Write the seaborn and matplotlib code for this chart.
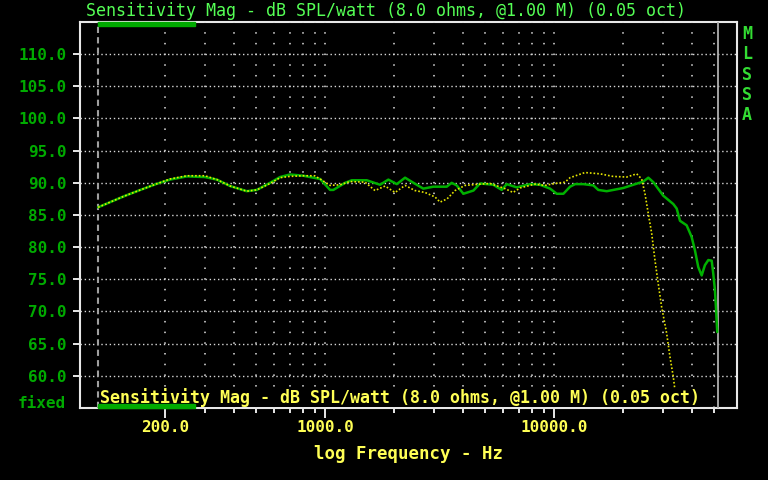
import matplotlib
matplotlib.use('Agg')
import matplotlib.pyplot as plt
from matplotlib.patches import Rectangle
import numpy as np
import pandas as pd
import seaborn as sns

# measured curve (solid green)
green_freq = [102, 132, 156, 184, 210, 249, 299, 337, 385, 455, 503, 575, 636, 703, 804, 951,
              1051, 1087, 1223, 1308, 1521, 1738, 1890, 2057, 2235, 2513, 2686, 2972, 3398, 3573,
              3759, 4018, 4446, 4754, 5433, 5911, 6212, 6871, 7853, 8683, 9610, 10280, 10990,
              11750, 12360, 13430, 14860, 15610, 16990, 20090, 22200, 24550, 25820, 27160, 30010,
              33200, 34350, 35500, 37960, 39910, 41270, 42680, 44160, 45620, 47210, 48840, 49620,
              50470, 50970, 51650]
green_db = [86.2, 87.9, 88.9, 89.85, 90.5, 91.0, 90.9, 90.5, 89.5, 88.7, 88.9, 90.0, 90.9, 91.3, 91.1, 90.6,
            88.9, 88.9, 90.0, 90.4, 90.4, 89.7, 90.5, 89.8, 90.8, 89.7, 89.1, 89.4, 89.4, 90.0,
            89.6, 88.3, 88.8, 89.9, 89.7, 88.9, 89.8, 89.3, 89.8, 89.7, 89.1, 88.3, 88.3,
            89.4, 89.8, 89.8, 89.6, 88.9, 88.7, 89.2, 89.7, 90.2, 90.8, 90.1, 88.0,
            86.7, 86.0, 84.1, 83.4, 81.6, 79.5, 76.9, 75.6, 77.2, 78.0, 77.9, 75.9,
            73.3, 70.7, 66.8]

# overlay curve (dotted yellow)
yellow_freq = [102, 132, 156, 184, 210, 249, 299, 337, 385, 455, 503, 575, 636, 703, 804, 900, 951,
               1051, 1163, 1286, 1495, 1652, 1828, 2022, 2235, 2471, 2733, 3022, 3178, 3410, 3696,
               4087, 4754, 5257, 6111, 6622, 7108, 8260, 9133, 10100, 11170, 11750, 13650, 15880,
               18110, 20770, 22970, 24150, 24970, 25820, 26720, 27620, 28540, 29520, 31050, 32120,
               33210, 33770, 34300]
yellow_db = [86.2, 87.9, 88.9, 89.85, 90.6, 91.1, 91.1, 90.5, 89.5, 88.7, 88.9, 89.9, 90.8, 91.0, 91.1, 91.1, 90.6,
             89.6, 89.7, 90.2, 90.1, 88.8, 89.5, 88.5, 89.6, 88.8, 88.5, 87.8, 87.0, 87.5, 88.8,
             89.6, 89.8, 89.9, 89.1, 88.5, 89.2, 89.8, 89.6, 89.9, 90.1, 90.8, 91.6, 91.4,
             91.0, 90.9, 91.4, 90.6, 88.3, 85.2, 82.1, 77.9, 74.3, 70.7, 66.6, 62.9,
             59.8, 57.7, 55.5]

y_ticks = [60, 65, 70, 75, 80, 85, 90, 95, 100, 105, 110]
x_major = [200, 1000, 10000]
x_minor = [300, 400, 500, 600, 700, 800, 900, 2000, 3000, 4000, 5000, 6000, 7000, 8000, 9000,
           20000, 30000, 40000, 50000]
cursor_hi = 52000

title = 'Sensitivity Mag - dB SPL/watt (8.0 ohms, @1.00 M) (0.05 oct)'

GREEN = '#00aa00'
LGREEN = '#55ff55'
YELLOW = '#ffff55'
TICK = '#e8e8e8'

sns.set_style('dark', rc={'axes.facecolor': 'black', 'figure.facecolor': 'black'})
plt.rcParams.update({
    'font.family': ['DejaVu Sans Mono', 'DejaVu Sans'],
    'axes.axisbelow': False,
})

df_g = pd.DataFrame({'freq': green_freq, 'db': green_db})
df_y = pd.DataFrame({'freq': yellow_freq, 'db': yellow_db})

fig = plt.figure(figsize=(7.68, 4.8), dpi=100)
ax = fig.add_axes([80 / 768, 1 - 408 / 480, 657 / 768, 386 / 480])
ax.set_facecolor('black')

sns.lineplot(data=df_g, x='freq', y='db', ax=ax, color='#00b000', lw=1.8, zorder=4)
sns.lineplot(data=df_y, x='freq', y='db', ax=ax, color='#e6e600', lw=1.2,
             linestyle=(0, (1, 1.2)), zorder=5)

ax.set_xscale('log')
ax.set_xlim(85, 63000)
ax.set_ylim(55, 115)

ax.set_xticks(x_major)
ax.set_xticklabels([f'{v:.1f}' for v in x_major])
ax.set_xticks(x_minor, minor=True)
ax.set_xticklabels([], minor=True)
ax.set_yticks(y_ticks)
ax.set_yticklabels([f'{v:.1f}' for v in y_ticks])

ax.grid(False)
ax.grid(axis='y', which='major', color='#d8d8d8', lw=1.0, linestyle=(0, (1, 2)))
ax.grid(axis='x', which='both', color='#e0e0e0', lw=1.1, linestyle=(0, (1, 6)))

ax.axvline(green_freq[0], color='#a0a0a0', lw=1.5, linestyle=(0, (3, 2)), zorder=3)
ax.axvline(cursor_hi, color='#b0b0b0', lw=1.3, zorder=3)

ax.tick_params(axis='x', which='major', length=7, labelcolor=YELLOW, labelsize=11.5, pad=1.5)
ax.tick_params(axis='y', which='major', length=5, labelcolor=GREEN, labelsize=11.5, pad=4.5)
for lab in ax.get_xticklabels() + ax.get_yticklabels():
    lab.set_fontweight('bold')

# tick marks outside the frame (the style hides the built-in ones)
xt = ax.get_xaxis_transform()
yt = ax.get_yaxis_transform()
ax.vlines(x_major, -10 / 386, 0, transform=xt, colors=TICK, lw=1.4, clip_on=False, zorder=6)
ax.vlines(x_minor, -5 / 386, 0, transform=xt, colors=TICK, lw=1.4, clip_on=False, zorder=6)
ax.hlines(y_ticks, -7 / 657, 0, transform=yt, colors=TICK, lw=1.4, clip_on=False, zorder=6)

for sp in ax.spines.values():
    sp.set_visible(True)
    sp.set_color(TICK)
    sp.set_linewidth(1.5)

ax.set_xlabel('log Frequency - Hz', color=YELLOW, fontsize=12.5, fontweight='bold', labelpad=7)
ax.set_ylabel('')

# titles and legend strip
fig.text(386 / 768, 1 - 11 / 480, title, color=LGREEN, fontsize=12, ha='center', va='center')
fig.text(100 / 768, 1 - 398 / 480, title, color=YELLOW, fontsize=12, fontweight='bold',
         ha='left', va='center', zorder=8,
         bbox=dict(facecolor='black', edgecolor='none', pad=0))
fig.text(66 / 768, 1 - 403 / 480, 'fixed', color=GREEN, fontsize=11.5, fontweight='bold',
         ha='right', va='center')

for y0 in (22, 404):
    fig.patches.append(Rectangle((98 / 768, 1 - (y0 + 4) / 480), 97 / 768, 4 / 480,
                                 transform=fig.transFigure, color=GREEN, zorder=10))

for i, ch in enumerate('MLSSA'):
    fig.text(747 / 768, 1 - (34 + i * 20.3) / 480, ch, color='#33dd33', fontsize=12,
             fontweight='bold', ha='center', va='center')

fig.savefig('out.png', dpi=100, facecolor='black')
